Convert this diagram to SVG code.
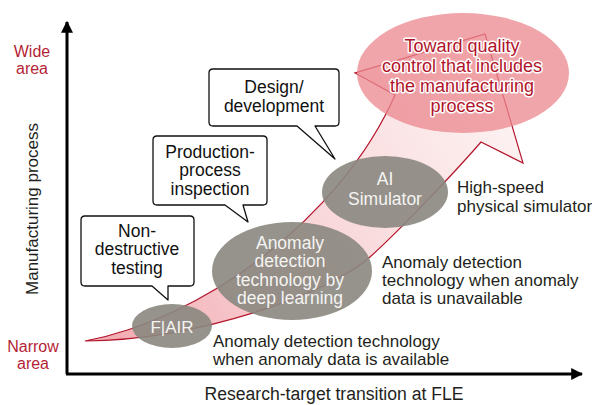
<svg xmlns="http://www.w3.org/2000/svg" width="592" height="405" viewBox="0 0 592 405">
<defs>
  <linearGradient id="bandGrad" gradientUnits="userSpaceOnUse" x1="90" y1="340" x2="480" y2="80">
    <stop offset="0" stop-color="#f2a9b0"/>
    <stop offset="0.45" stop-color="#f8d2d5"/>
    <stop offset="1" stop-color="#fdf1f1"/>
  </linearGradient>
  <marker id="axisHead" viewBox="0 0 10 10" refX="9" refY="5" markerWidth="4" markerHeight="4" markerUnits="strokeWidth" orient="auto">
    <path d="M0,0 L10,5 L0,10 Z" fill="#000"/>
  </marker>
</defs>
<style>
  text { font-family: "Liberation Sans", Arial, sans-serif; }
  .axisline { stroke: #000; stroke-width: 3; fill: none; }
  .red { fill: #b41f35; font-size: 16px; text-anchor: middle; }
  .lbl { fill: #231f20; font-size: 17px; }
  .callout { fill: #fff; stroke: #111; stroke-width: 1.3; stroke-linejoin: round; }
  .ctext { fill: #111; font-size: 17.5px; text-anchor: middle; }
  .gray { fill: #8a877f; fill-opacity: 0.9; }
  .gtext { fill: #f4f4f2; font-size: 17.5px; text-anchor: middle; }
  .goal { fill: #eb878e; fill-opacity: 0.75; }
  .goaltext { fill: #b0142a; font-size: 18px; text-anchor: middle; stroke: #fff; stroke-width: 3; paint-order: stroke; stroke-linejoin: round; }
</style>

<g id="axes">
  <path class="axisline" d="M67,374 V22" marker-end="url(#axisHead)"/>
  <path class="axisline" d="M66,374 H582" marker-end="url(#axisHead)"/>
  <text class="red" x="32" y="57">Wide</text>
  <text class="red" x="32" y="74">area</text>
  <text class="red" x="33" y="352">Narrow</text>
  <text class="red" x="33" y="369">area</text>
  <text class="lbl" text-anchor="middle" transform="translate(38,209) rotate(-90)">Manufacturing process</text>
  <text class="lbl" x="334" y="400" text-anchor="middle" style="font-size:17.6px">Research-target transition at FLE</text>
</g>

<g id="connectors">
  <path id="trend-arrow" d="M85,341 C200,320 340,220 395,95 L355,73 L485,34 L523,163 L481,142 C455,172 400,230 370,257 C330,293 200,340 85,341 Z" fill="url(#bandGrad)" stroke="#b5172d" stroke-width="1.2" stroke-linejoin="miter"/>
</g>

<g id="node-goal">
  <ellipse class="goal" cx="463" cy="73" rx="106" ry="60"/>
  <text class="goaltext" x="462" y="52">Toward quality</text>
  <text class="goaltext" x="462" y="72">control that includes</text>
  <text class="goaltext" x="462" y="92">the manufacturing</text>
  <text class="goaltext" x="462" y="112">process</text>
</g>

<g id="node-fair">
  <ellipse class="gray" cx="172" cy="326" rx="40" ry="22"/>
  <text class="gtext" x="172" y="333" style="font-size:17px">F|AIR</text>
</g>

<g id="node-deeplearning">
  <ellipse class="gray" cx="292" cy="271" rx="80" ry="49"/>
  <text class="gtext" x="290" y="248.5">Anomaly</text>
  <text class="gtext" x="290" y="267">detection</text>
  <text class="gtext" x="290" y="285.5">technology by</text>
  <text class="gtext" x="290" y="304">deep learning</text>
</g>

<g id="node-aisim">
  <ellipse class="gray" cx="385" cy="192" rx="63" ry="36"/>
  <text class="gtext" x="385" y="185">AI</text>
  <text class="gtext" x="385" y="205">Simulator</text>
</g>

<g id="callout-design">
  <path class="callout" d="M213,69 H335 Q339,69 339,73 V122 Q339,126 335,126 H315 L335,159 L297,126 H213 Q209,126 209,122 V73 Q209,69 213,69 Z"/>
  <text class="ctext" x="274" y="93">Design/</text>
  <text class="ctext" x="274" y="112">development</text>
</g>

<g id="callout-production">
  <path class="callout" d="M157,136 H263 Q267,136 267,140 V201 Q267,205 263,205 H243 L248,222 L225,205 H157 Q153,205 153,201 V140 Q153,136 157,136 Z"/>
  <text class="ctext" x="210" y="157.5">Production-</text>
  <text class="ctext" x="210" y="176">process</text>
  <text class="ctext" x="210" y="194.5">inspection</text>
</g>

<g id="callout-ndt">
  <path class="callout" d="M85,216 H190 Q194,216 194,220 V282 Q194,286 190,286 H168 L168,300 L152,286 H85 Q81,286 81,282 V220 Q81,216 85,216 Z"/>
  <text class="ctext" x="137" y="236.5">Non-</text>
  <text class="ctext" x="137" y="255">destructive</text>
  <text class="ctext" x="137" y="273.5">testing</text>
</g>

<g id="label-sim">
  <text class="lbl" x="457" y="193">High-speed</text>
  <text class="lbl" x="457" y="212">physical simulator</text>
</g>

<g id="label-unavailable">
  <text class="lbl" x="382" y="268">Anomaly detection</text>
  <text class="lbl" x="382" y="286">technology when anomaly</text>
  <text class="lbl" x="382" y="304">data is unavailable</text>
</g>

<g id="label-available">
  <text class="lbl" x="213" y="346.5">Anomaly detection technology</text>
  <text class="lbl" x="213" y="364.5">when anomaly data is available</text>
</g>
</svg>
